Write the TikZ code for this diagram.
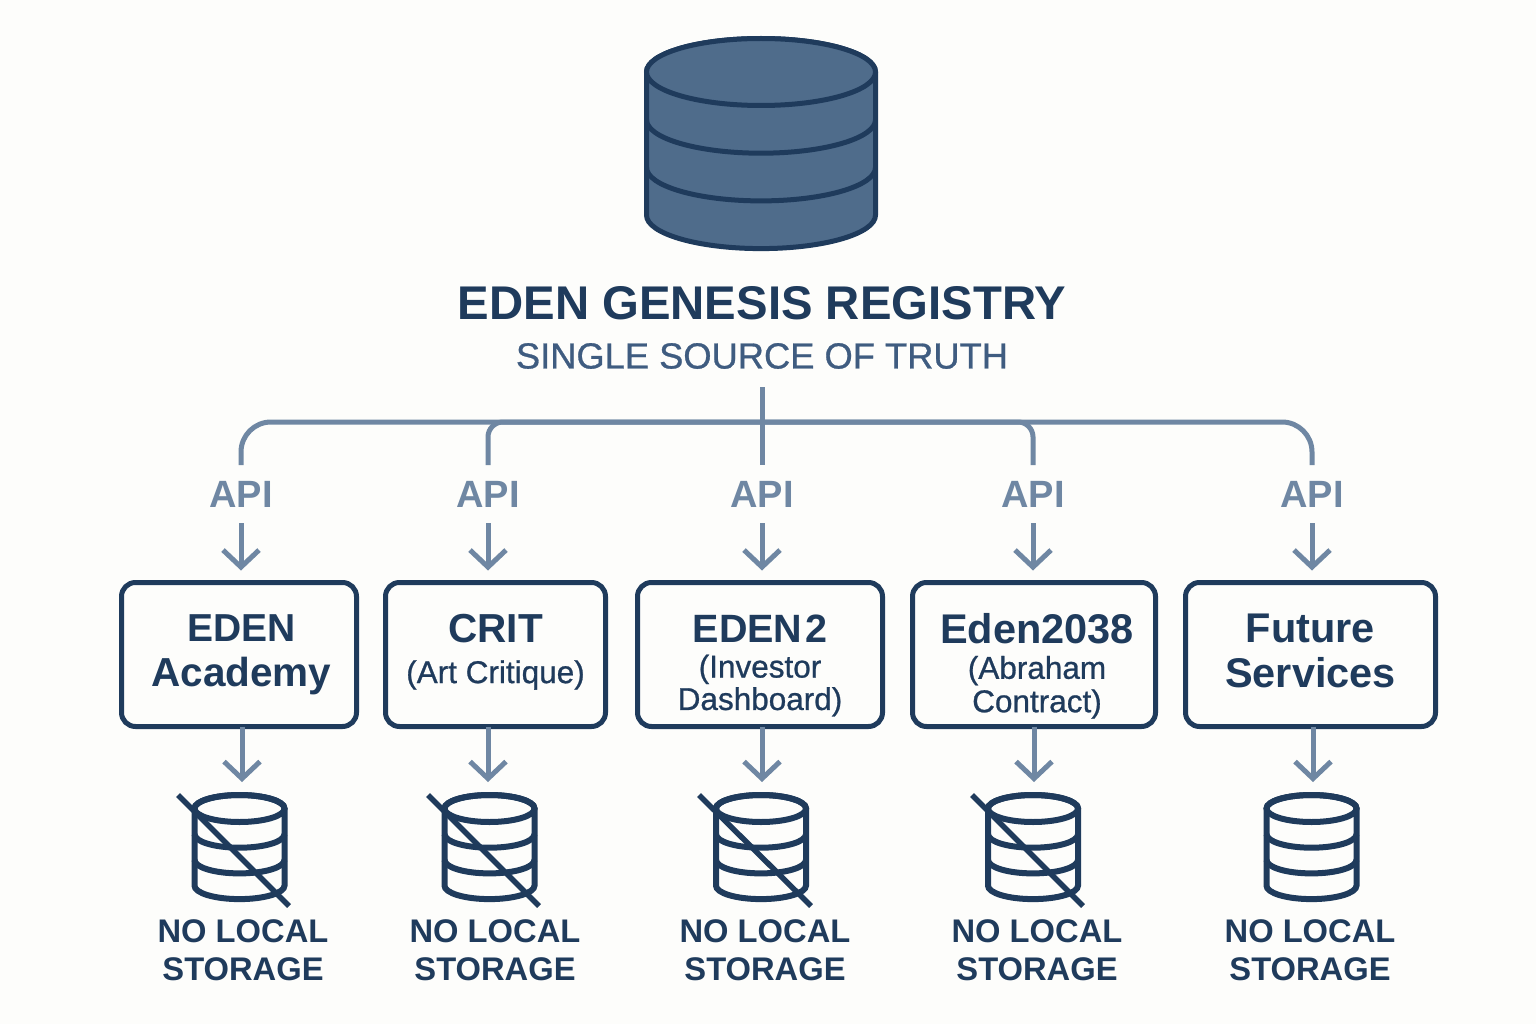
\documentclass[tikz,border=0pt]{standalone}
\usepackage{fontspec}
\usepackage{array}
\setmainfont{Liberation Sans}
\newfontfamily\medfont[FakeBold=0.8]{Liberation Sans}
\usetikzlibrary{arrows.meta}
\definecolor{navy}{HTML}{1F3B5C}
\definecolor{slateline}{HTML}{6F87A3}
\definecolor{subt}{HTML}{3F5C80}
\definecolor{dbfill}{HTML}{4F6C8B}
\definecolor{paper}{HTML}{FDFDFB}
\newcommand\fs[1]{\fontsize{#1}{#1}\selectfont}
\newcommand\hd[2]{{\fs{#1}\bfseries #2}}
\newcommand\sbt[1]{{\fs{31.5}\medfont #1}}
% cx, cy, rx, ry, gap, style
\newcommand\dbstack[6]{%
  \path[#6] ({#1-#3},{#2}) -- ({#1-#3},{#2+3*#5})
     arc[start angle=180,end angle=360,x radius=#3pt,y radius=#4pt]
     -- ({#1+#3},{#2}) arc[start angle=0,end angle=180,x radius=#3pt,y radius=#4pt] -- cycle;
  \path[#6] (#1,#2) ellipse[x radius=#3pt,y radius=#4pt];
  \path[#6,fill=none] ({#1-#3},{#2+#5}) arc[start angle=180,end angle=360,x radius=#3pt,y radius=#4pt];
  \path[#6,fill=none] ({#1-#3},{#2+2*#5}) arc[start angle=180,end angle=360,x radius=#3pt,y radius=#4pt];
}
\newcommand\boxtxt[2]{\raisebox{#1}[0pt][0pt]{\setlength\tabcolsep{0pt}\begin{tabular}[c]{c}#2\end{tabular}}}
\tikzset{
  bus/.style={draw=slateline,line width=5pt},
  flow/.style={draw=slateline,line width=5pt,-{Straight Barb[length=17pt,width=36pt,line width=5pt]}},
  apilabel/.style={text=slateline,font=\fs{38}\bfseries,minimum height=58pt,inner sep=0pt,outer sep=0pt},
  svc/.style={draw=navy,line width=5pt,rounded corners=14pt,fill=none,text=navy,inner sep=0pt,outer sep=0pt,minimum height=144pt},
  nostore/.style={text=navy,font=\fontsize{32.7}{38}\selectfont\bfseries,align=center,inner sep=0pt},
  dbbig/.style={draw=navy,line width=5pt,fill=dbfill},
  dbsmall/.style={draw=navy,line width=6pt,fill=none},
  slash/.style={draw=navy,line width=5.5pt}
}
\begin{document}
\begin{tikzpicture}[x=1pt,y=-1pt]
\useasboundingbox (0,0) rectangle (1536,1024);
\fill[paper] (0,0) rectangle (1536,1024);
\dbstack{761}{72}{114.5}{33.5}{47.7}{dbbig}
\node[text=navy,font=\fs{47.3}\bfseries,inner sep=0pt] (title) at (762,303) {EDEN GENESIS REGISTRY};
\node[text=subt,font=\fs{36.3}\medfont,inner sep=0pt] (subtitle) at (762,356) {SINGLE SOURCE OF TRUTH};
\coordinate (trunk) at (762,387);
\coordinate (hub) at (762,422);
\node[apilabel] (a1) at (241,494) {API};
\node[apilabel] (a2) at (488,494) {API};
\node[apilabel] (a3) at (762,494) {API};
\node[apilabel] (a4) at (1033,494) {API};
\node[apilabel] (a5) at (1312,494) {API};
\draw[bus,rounded corners=30pt] (a1.north) |- (hub) -| (a5.north);
\draw[bus,rounded corners=15pt] (a2.north) |- (hub);
\draw[bus,rounded corners=15pt] (a4.north) |- (hub);
\draw[bus] (trunk) -- (a3.north);
\node[svc,minimum width=235pt] (b1) at (239,654.5) {\kern5pt\boxtxt{-3pt}{\hd{39}{EDEN}\\[12pt]\hd{40.5}{Academy}}};
\node[svc,minimum width=220pt] (b2) at (495.5,654.5) {\boxtxt{0pt}{\hd{40.5}{CRIT}\\[14pt]\sbt{(Art Critique)}}};
\node[svc,minimum width=245pt] (b3) at (760,654.5) {\boxtxt{-13.5pt}{\hd{39.5}{EDEN\kern3pt 2}\\[9pt]\sbt{(Investor}\\[6pt]\sbt{Dashboard)}}};
\node[svc,minimum width=243pt] (b4) at (1034,654.5) {\kern6pt\boxtxt{-14pt}{\hd{41.5}{Eden2038}\\[9pt]\sbt{(Abraham}\\[7pt]\sbt{Contract)}}};
\node[svc,minimum width=250pt] (b5) at (1310.5,654.5) {\boxtxt{-0.5pt}{\hd{41.5}{Future}\\[11pt]\hd{41.5}{Services}}};
\draw[flow,shorten >=12pt] (a1.south) -- (a1.south |- b1.north);
\draw[flow,shorten >=12pt] (a2.south) -- (a2.south |- b2.north);
\draw[flow,shorten >=12pt] (a3.south) -- (a3.south |- b3.north);
\draw[flow,shorten >=12pt] (a4.south) -- (a4.south |- b4.north);
\draw[flow,shorten >=12pt] (a5.south) -- (a5.south |- b5.north);
\coordinate (d1) at (242,782);
\coordinate (d2) at (488,782);
\coordinate (d3) at (762,782);
\coordinate (d4) at (1034,782);
\coordinate (d5) at (1313,782);
\draw[flow] (b1.south -| d1) -- (d1);
\draw[flow] (b2.south -| d2) -- (d2);
\draw[flow] (b3.south -| d3) -- (d3);
\draw[flow] (b4.south -| d4) -- (d4);
\draw[flow] (b5.south -| d5) -- (d5);
\dbstack{239.5}{808.5}{45}{13.5}{25.7}{dbsmall}
\dbstack{489.5}{808.5}{45}{13.5}{25.7}{dbsmall}
\dbstack{761}{808.5}{45}{13.5}{25.7}{dbsmall}
\dbstack{1033}{808.5}{45}{13.5}{25.7}{dbsmall}
\dbstack{1311.5}{808.5}{45}{13.5}{25.7}{dbsmall}
\draw[slash] (178,795) -- (289,906);
\draw[slash] (428,795) -- (539,906);
\draw[slash] (699,795) -- (811,906);
\draw[slash] (972,795) -- (1083,906);
\node[nostore] (n1) at (243,950) {NO LOCAL\\STORAGE};
\node[nostore] (n2) at (495,950) {NO LOCAL\\STORAGE};
\node[nostore] (n3) at (765,950) {NO LOCAL\\STORAGE};
\node[nostore] (n4) at (1037,950) {NO LOCAL\\STORAGE};
\node[nostore] (n5) at (1310,950) {NO LOCAL\\STORAGE};
\end{tikzpicture}
\end{document}
